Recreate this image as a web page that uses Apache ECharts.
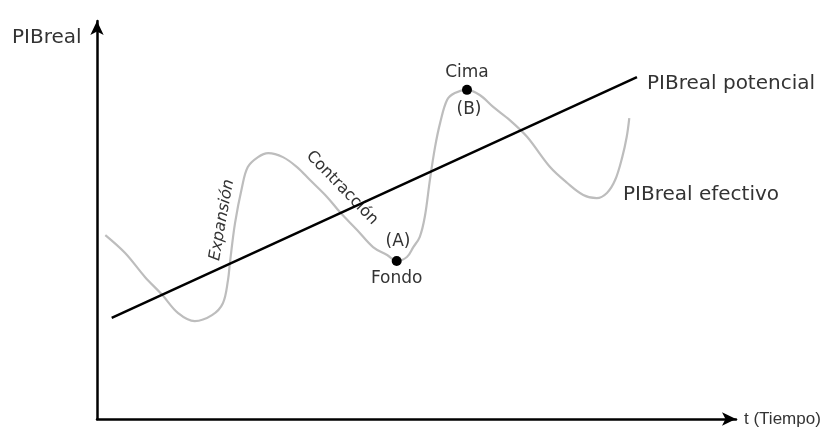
<!DOCTYPE html>
<html>
<head>
<meta charset="utf-8">
<title>Ciclo económico</title>
<script src="https://cdn.jsdelivr.net/npm/echarts@6/dist/echarts.min.js"></script>
<style>
	html, body { margin:0; padding:0; background:#fff; }
	#main { width:822px; height:430px; }
</style>
</head>
<body>
<div id="main"></div>
<script>
var tiempoEfectivo = [1.3, 4.4, 7.5, 10.2, 12.7, 15.3, 18.0, 19.7, 20.5, 20.8, 21.6, 22.7, 23.6, 25.2, 26.8, 29.1, 31.3, 33.3, 36.0, 38.0, 40.7, 43.2, 45.4, 46.9, 48.5, 49.5, 50.5, 51.3, 52.1, 52.9, 53.7, 54.8, 56.0, 57.9, 59.9, 62.0, 64.6, 67.3, 70.9, 73.6, 76.1, 78.2, 79.8, 81.1, 82.2, 82.9, 83.3];
var pibEfectivo = [46.2, 41.7, 35.7, 31.2, 26.6, 24.6, 26.1, 29.1, 34.9, 39.2, 49.2, 58.3, 63.3, 65.8, 66.8, 65.8, 63.3, 60.1, 55.8, 52.0, 47.5, 43.2, 41.2, 39.7, 40.7, 43.2, 45.7, 50.8, 60.1, 68.3, 74.4, 80.2, 81.9, 82.7, 81.4, 78.4, 75.1, 70.9, 63.3, 59.3, 56.3, 55.5, 56.8, 60.1, 65.8, 70.9, 75.6];

// PIB real potencial (recta)
var tiempoPotencial = [2.3, 84.5];
var pibPotencial = [25.4, 85.9];

// fondo (A) y cima (B)
var puntosNombre = ['Fondo', 'Cima'];
var puntosT = [46.9, 57.9];
var puntosPIB = [39.7, 82.7];

var fuente = 'DejaVu Sans';

function zip(a, b) {
	var r = [];
	for (var i = 0; i < a.length; i++) r.push([a[i], b[i]]);
	return r;
}

var chart = echarts.init(document.getElementById('main'));

var puntos = [];
for (var i = 0; i < puntosNombre.length; i++) {
	puntos.push({
		name: puntosNombre[i],
		value: [puntosT[i], puntosPIB[i]],
		label: {
			show: true,
			formatter: '{b}',
			position: i == 0 ? 'bottom' : 'top',
			distance: 4,
			fontFamily: fuente, fontSize: 17, color: '#333'
		}
	});
}

var ejeLinea = {
	show: true,
	symbol: ['none', 'arrow'],
	symbolSize: [10, 14],
	lineStyle: { color: '#000', width: 2.5 }
};

var option = {
	animation: false,
	grid: { left: 97, right: 86, top: 21, bottom: 11 },
	xAxis: {
		type: 'value', min: 0, max: 100,
		axisLine: ejeLinea,
		axisTick: { show: false }, axisLabel: { show: false }, splitLine: { show: false }
	},
	yAxis: {
		type: 'value', min: 0, max: 100,
		axisLine: ejeLinea,
		axisTick: { show: false }, axisLabel: { show: false }, splitLine: { show: false }
	},
	series: [
		{
			name: 'PIBreal efectivo',
			type: 'line',
			data: zip(tiempoEfectivo, pibEfectivo),
			smooth: 0.35,
			showSymbol: false,
			lineStyle: { color: '#bdbdbd', width: 2.2 }
		},
		{
			name: 'PIBreal potencial',
			type: 'line',
			data: zip(tiempoPotencial, pibPotencial),
			showSymbol: false,
			lineStyle: { color: '#000', width: 2.5 }
		},
		{
			type: 'scatter',
			data: puntos,
			symbolSize: 10,
			itemStyle: { color: '#000', opacity: 1 },
			emphasis: { disabled: true },
			z: 5
		}
	],
	graphic: [
		{ type: 'text', left: 12, top: 28, style: { text: 'PIBreal', font: '20px ' + fuente, fill: '#333' } },
		{ type: 'text', x: 647, y: 84, style: { text: 'PIBreal potencial', font: '20px ' + fuente, fill: '#333', textVerticalAlign: 'middle' } },
		{ type: 'text', x: 623, y: 195, style: { text: 'PIBreal efectivo', font: '20px ' + fuente, fill: '#333', textVerticalAlign: 'middle' } },
		{ type: 'text', x: 744, y: 419, style: { text: 't (Tiempo)', font: '17px Liberation Sans', fill: '#333', textVerticalAlign: 'middle' } },
		{ type: 'text', x: 398, y: 242, style: { text: '(A)', font: '17px ' + fuente, fill: '#333', textAlign: 'center', textVerticalAlign: 'middle' } },
		{ type: 'text', x: 469, y: 110, style: { text: '(B)', font: '17px ' + fuente, fill: '#333', textAlign: 'center', textVerticalAlign: 'middle' } },
		{ type: 'text', x: 222, y: 220, rotation: 1.396, style: { text: 'Expansión', font: 'italic 16px ' + fuente, fill: '#333', textAlign: 'center', textVerticalAlign: 'middle' } },
		{ type: 'text', x: 342, y: 188, rotation: -0.80, style: { text: 'Contracción', font: '16px ' + fuente, fill: '#333', textAlign: 'center', textVerticalAlign: 'middle' } }
	]
};

chart.setOption(option);
</script>
</body>
</html>
